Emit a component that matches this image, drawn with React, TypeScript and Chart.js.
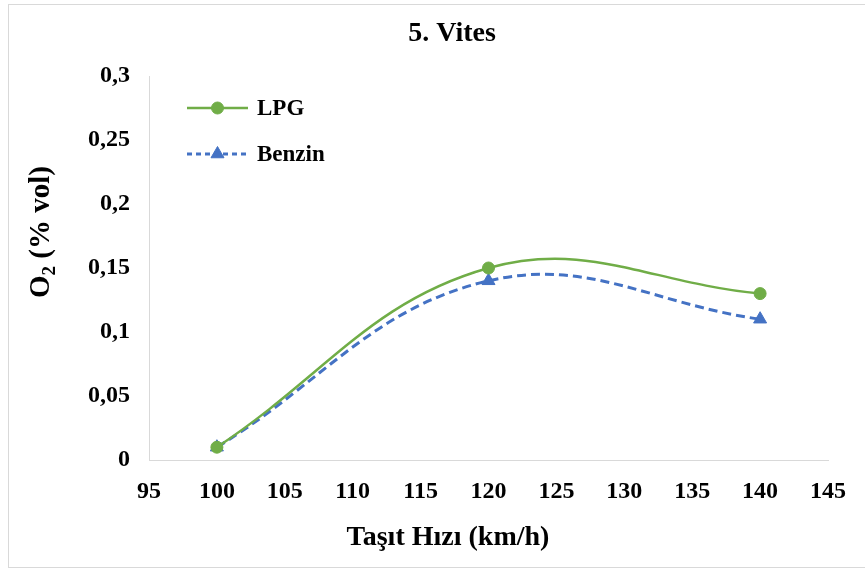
import React, { useEffect, useRef } from "react";
import { Chart, registerables } from "chart.js";

Chart.register(...registerables);

// ---- data ----
const chartTitle = "5. Vites";
const xAxisTitle = "Taşıt Hızı (km/h)";
const yAxisTitleMain = "O";
const yAxisTitleSub = "2";
const yAxisTitleRest = " (% vol)";
const speeds = [100, 120, 140];
const lpgValues = [0.01, 0.15, 0.13];
const benzinValues = [0.01, 0.14, 0.11];
const seriesNames = ["LPG", "Benzin"];
const xTickValues = [95, 100, 105, 110, 115, 120, 125, 130, 135, 140, 145];
const yTickValues = [0, 0.05, 0.1, 0.15, 0.2, 0.25, 0.3];

const FONT = "'Liberation Serif', 'Times New Roman', serif";
const GREEN = "#70AD47";
const BLUE = "#4472C4";

const fmt = (v: number) => String(Number(v.toFixed(2))).replace(".", ",");

const insideLegend = {
  id: "insideLegend",
  afterDatasetsDraw(chart: any, _args: any, opts: any) {
    const ctx = chart.ctx;
    const datasets = chart.data.datasets;
    ctx.save();
    datasets.forEach((ds: any, i: number) => {
      const y = opts.y + i * opts.gap;
      const x0 = opts.x;
      const x1 = opts.x + opts.lineLength;
      ctx.strokeStyle = ds.borderColor;
      ctx.lineWidth = ds.borderWidth;
      ctx.setLineDash(ds.legendDash || ds.borderDash || []);
      ctx.beginPath();
      ctx.moveTo(x0, y);
      ctx.lineTo(x1, y);
      ctx.stroke();
      ctx.setLineDash([]);
      const cx = (x0 + x1) / 2;
      const r = ds.pointRadius;
      ctx.fillStyle = ds.pointBackgroundColor;
      ctx.strokeStyle = ds.pointBorderColor;
      ctx.lineWidth = 1;
      ctx.beginPath();
      if (ds.pointStyle === "triangle") {
        let rad = 0;
        ctx.moveTo(cx + Math.sin(rad) * r, y - Math.cos(rad) * r);
        rad += (2 * Math.PI) / 3;
        ctx.lineTo(cx + Math.sin(rad) * r, y - Math.cos(rad) * r);
        rad += (2 * Math.PI) / 3;
        ctx.lineTo(cx + Math.sin(rad) * r, y - Math.cos(rad) * r);
        ctx.closePath();
      } else {
        ctx.arc(cx, y, r, 0, Math.PI * 2);
      }
      ctx.fill();
      ctx.stroke();
      ctx.fillStyle = "#000";
      ctx.font = `bold ${opts.fontSize}px ${FONT}`;
      ctx.textBaseline = "middle";
      ctx.textAlign = "left";
      ctx.fillText(ds.label, x1 + opts.textGap, y + 1);
    });
    ctx.restore();
  },
};

const axisTitles = {
  id: "axisTitles",
  afterDraw(chart: any, _args: any, opts: any) {
    const ctx = chart.ctx;
    ctx.save();
    ctx.fillStyle = "#000";
    ctx.textBaseline = "middle";
    // x-axis title
    ctx.font = `bold ${opts.xFontSize}px ${FONT}`;
    ctx.textAlign = "center";
    ctx.fillText(opts.xText, opts.xCenter, opts.xMiddle);
    // y-axis title (rotated, with subscript)
    ctx.translate(opts.yCenterX, opts.yCenterY);
    ctx.rotate(-Math.PI / 2);
    ctx.textAlign = "left";
    const big = `bold ${opts.yFontSize}px ${FONT}`;
    const small = `bold ${opts.ySubSize}px ${FONT}`;
    ctx.font = big;
    const w1 = ctx.measureText(opts.yMain).width;
    const w3 = ctx.measureText(opts.yRest).width;
    ctx.font = small;
    const w2 = ctx.measureText(opts.ySub).width;
    let x = -(w1 + w2 + w3) / 2;
    ctx.font = big;
    ctx.fillText(opts.yMain, x, 0);
    x += w1;
    ctx.font = small;
    ctx.fillText(opts.ySub, x, opts.ySubShift);
    x += w2;
    ctx.font = big;
    ctx.fillText(opts.yRest, x, 0);
    ctx.restore();
  },
};

export default function App() {
  const canvasRef = useRef<HTMLCanvasElement | null>(null);

  useEffect(() => {
    if (!canvasRef.current) return;
    const chart = new Chart(canvasRef.current, {
      type: "line",
      data: {
        datasets: [
          {
            label: seriesNames[0],
            data: speeds.map((s, i) => ({ x: s, y: lpgValues[i] })),
            borderColor: GREEN,
            backgroundColor: GREEN,
            borderWidth: 2.5,
            tension: 0.4,
            pointStyle: "circle",
            pointRadius: 6,
            pointBackgroundColor: GREEN,
            pointBorderColor: GREEN,
            pointBorderWidth: 1,
            fill: false,
          } as any,
          {
            label: seriesNames[1],
            data: speeds.map((s, i) => ({ x: s, y: benzinValues[i] })),
            borderColor: BLUE,
            backgroundColor: BLUE,
            borderWidth: 3,
            borderDash: [9, 5],
            legendDash: [5, 4],
            tension: 0.4,
            pointStyle: "triangle",
            pointRadius: 7.5,
            pointBackgroundColor: BLUE,
            pointBorderColor: BLUE,
            pointBorderWidth: 1,
            fill: false,
          } as any,
        ],
      },
      options: {
        responsive: false,
        animation: false,
        layout: { padding: { left: 76, right: 37, top: 0, bottom: 0 } },
        plugins: {
          legend: { display: false },
          tooltip: { enabled: false },
          title: {
            display: true,
            text: chartTitle,
            color: "#000",
            font: { family: FONT, size: 28, weight: "bold" },
            padding: { top: 17, bottom: 25.4 },
          },
          insideLegend: { x: 187, y: 108, gap: 46, lineLength: 61, textGap: 9, fontSize: 23 },
          axisTitles: {
            xText: xAxisTitle,
            xFontSize: 28,
            xCenter: 448,
            xMiddle: 538,
            yMain: yAxisTitleMain,
            ySub: yAxisTitleSub,
            yRest: yAxisTitleRest,
            yFontSize: 29,
            ySubSize: 19,
            ySubShift: 8,
            yCenterX: 42,
            yCenterY: 232,
          },
        } as any,
        scales: {
          x: {
            type: "linear",
            min: 95,
            max: 145,
            grid: { display: false, drawTicks: false },
            border: { display: true, color: "#d9d9d9", width: 1 },
            afterBuildTicks: (s: any) => {
              s.ticks = xTickValues.map((v) => ({ value: v }));
            },
            afterFit: (s: any) => {
              s.height = 109;
            },
            ticks: {
              color: "#000",
              padding: 17,
              maxRotation: 0,
              autoSkip: false,
              font: { family: FONT, size: 24, weight: "bold" },
              callback: (v: any) => String(v),
            },
          },
          y: {
            type: "linear",
            min: 0,
            max: 0.3,
            grid: { display: false, drawTicks: false },
            border: { display: true, color: "#d9d9d9", width: 1 },
            afterBuildTicks: (s: any) => {
              s.ticks = yTickValues.map((v) => ({ value: v }));
            },
            afterFit: (s: any) => {
              s.width = 73;
            },
            ticks: {
              color: "#000",
              padding: 19,
              autoSkip: false,
              font: { family: FONT, size: 24, weight: "bold" },
              callback: (v: any) => fmt(Number(v)),
            },
          },
        },
      } as any,
      plugins: [insideLegend, axisTitles],
    });
    return () => chart.destroy();
  }, []);

  return (
    <div
      style={{
        position: "absolute",
        left: 0,
        top: 0,
        width: 865,
        height: 569,
        background: "#fff",
        overflow: "hidden",
      }}
    >
      <div
        style={{
          position: "absolute",
          left: 8,
          top: 4,
          width: 870,
          height: 564,
          border: "1px solid #d9d9d9",
          boxSizing: "border-box",
        }}
      />
      <canvas
        ref={canvasRef}
        width={865}
        height={569}
        style={{ position: "absolute", left: 0, top: 0, width: 865, height: 569 }}
      />
    </div>
  );
}
